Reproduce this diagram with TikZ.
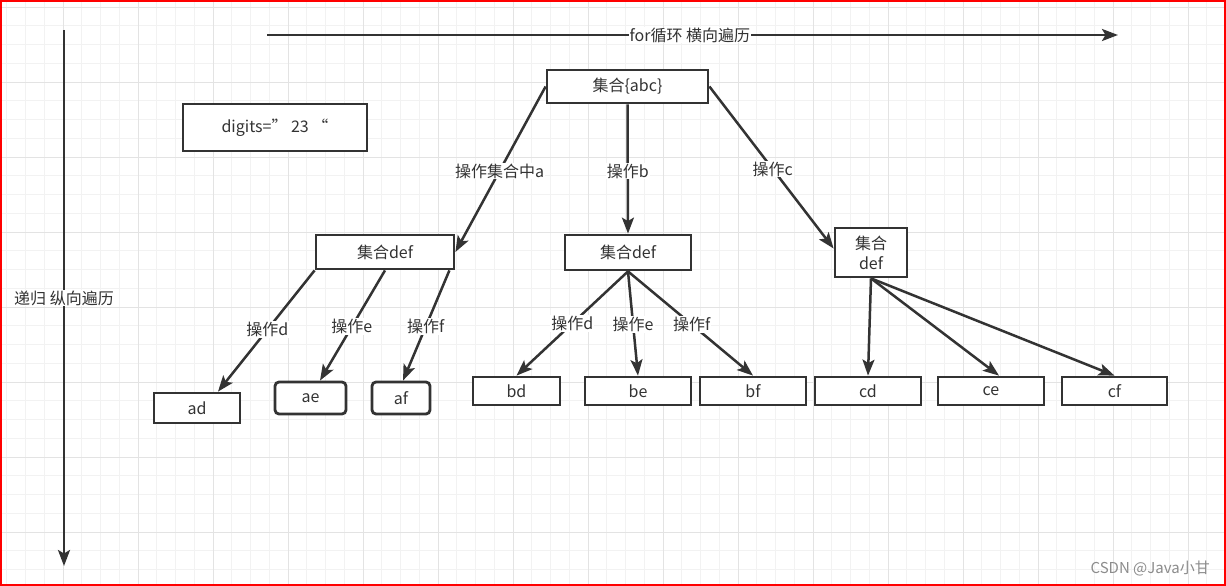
\documentclass[tikz,border=0pt]{standalone}
\usepackage{fontspec}
\setmainfont{Noto Sans CJK SC}
\usetikzlibrary{arrows.meta}
\definecolor{ink}{HTML}{333333}
\definecolor{gminor}{HTML}{F2F2F2}
\definecolor{gmajor}{HTML}{E3E3E3}
\tikzset{
  box/.style={draw=ink, line width=2.8pt, fill=white, text=ink, inner sep=0pt, font=\fontsize{16}{19}\selectfont},
  rbox/.style={box, rounded corners=4pt},
  conn/.style={draw=ink, line width=2.5pt, -{Stealth[length=16pt,width=12pt,inset=3.5pt]}},
  lbl/.style={fill=white, text=ink, inner sep=1pt, font=\fontsize{16}{19}\selectfont},
}
\begin{document}
\begin{tikzpicture}[x=1pt,y=-1pt]
\useasboundingbox (0,0) rectangle (1226,586);
\fill[white] (0,0) rectangle (1226,586);
% grid
\foreach \i in {0,...,65} {
  \draw[gminor, line width=0.8pt] ({6.75+18.75*\i},0) -- ++(0,586);
}
\foreach \i in {0,...,31} {
  \draw[gminor, line width=0.8pt] (0,{7+18.75*\i}) -- ++(1226,0);
}
\foreach \i in {0,...,16} {
  \draw[gmajor, line width=0.8pt] ({63+75*\i-75},0) -- ++(0,586);
}
\foreach \i in {0,...,8} {
  \draw[gmajor, line width=0.8pt] (0,{7+75*\i}) -- ++(1226,0);
}
% border
\draw[red, line width=2pt] (1,1) rectangle (1225,585);

% axes
\coordinate (htop) at (267,35);
\coordinate (hend) at (1118,35);
\coordinate (vtop) at (64,30);
\coordinate (vend) at (64,566);
\draw[conn] (htop) -- node[lbl, pos=0.497] (hlbl) {for循环 横向遍历} (hend);
\draw[conn] (vtop) -- node[lbl, pos=0.5] (vlbl) {递归 纵向遍历} (vend);

% nodes
\node[box, minimum width=161pt, minimum height=33pt] (root) at (627.5,86.5) {集合\{abc\}};
\node[box, minimum width=184pt, minimum height=47pt] (digits) at (275,127.5) {digits=” 23 “};
\node[box, minimum width=138pt, minimum height=34pt] (Ldef) at (385,252) {集合def};
\node[box, minimum width=126pt, minimum height=35pt] (Mdef) at (628,252.5) {集合def};
\node[box, minimum width=72pt, minimum height=49pt, align=center, font=\fontsize{16}{20}\selectfont] (Rdef) at (871,252.5) {集合\\def};
\node[box, minimum width=86pt, minimum height=30pt] (ad) at (197,408) {ad};
\node[rbox, minimum width=71pt, minimum height=32pt] (ae) at (310.5,398) {ae};
\node[rbox, minimum width=58pt, minimum height=32pt] (af) at (401,398) {af};
\node[box, minimum width=87pt, minimum height=28pt] (bd) at (516.5,391) {bd};
\node[box, minimum width=106pt, minimum height=28pt] (be) at (638,391) {be};
\node[box, minimum width=106pt, minimum height=28pt] (bf) at (753,391) {bf};
\node[box, minimum width=106pt, minimum height=28pt] (cd) at (868,391) {cd};
\node[box, minimum width=106pt, minimum height=28pt] (ce) at (991,391) {ce};
\node[box, minimum width=105pt, minimum height=28pt] (cf) at (1114.5,391) {cf};

% connectors
\draw[conn] (root.west) -- node[lbl, pos=0.51] {操作集合中a} (Ldef.east);
\draw[conn] (root.south) -- node[lbl, pos=0.515] {操作b} (Mdef.north);
\draw[conn] (root.east) -- node[lbl, pos=0.51] {操作c} ([yshift=4pt]Rdef.west);

\draw[conn] (Ldef.south west) -- node[lbl, pos=0.49] {操作d} ([xshift=21pt]ad.north);
\draw[conn] (Ldef.south) -- node[lbl, pos=0.51] {操作e} ([xshift=9.5pt]ae.north);
\draw[conn] ([xshift=-6pt]Ldef.south east) -- node[lbl, pos=0.51] {操作f} ([xshift=2pt]af.north);

\draw[conn] (Mdef.south) -- node[lbl, pos=0.5] {操作d} (bd.north);
\draw[conn] (Mdef.south) -- node[lbl, pos=0.51] {操作e} (be.north);
\draw[conn] (Mdef.south) -- node[lbl, pos=0.51] {操作f} (bf.north);

\draw[conn] (Rdef.south) -- (cd.north);
\draw[conn] (Rdef.south) -- ([xshift=8pt]ce.north);
\draw[conn] (Rdef.south) -- (cf.north);

% watermark
\node[anchor=east, text=black!45, inner sep=0pt, font=\fontsize{15}{17}\selectfont] (wm) at (1210,569) {CSDN @Java小甘};
\end{tikzpicture}
\end{document}
